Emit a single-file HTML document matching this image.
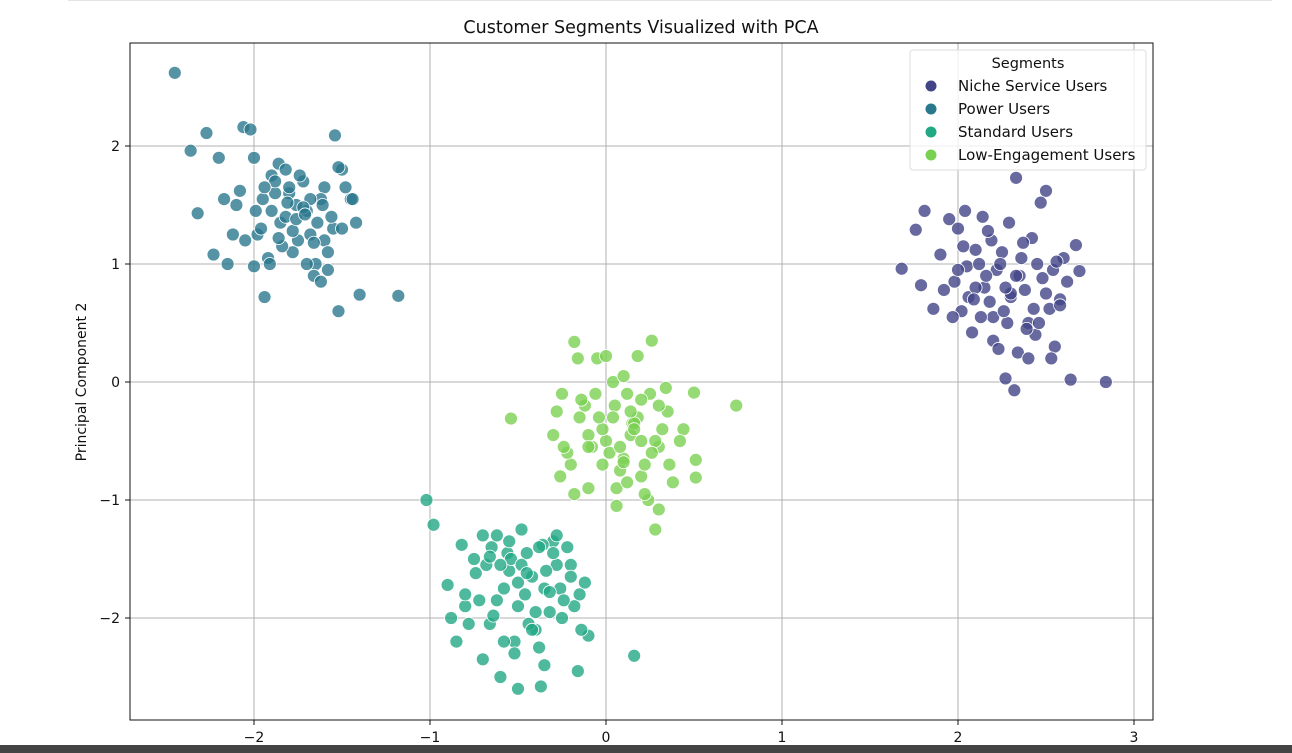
<!DOCTYPE html>
<html><head><meta charset="utf-8"><style>
body{margin:0;background:#fff;width:1292px;height:753px;overflow:hidden;font-family:"DejaVu Sans","Liberation Sans",sans-serif}
</style></head><body>
<div style="position:absolute;left:68px;top:0;width:1204px;height:1px;background:#e4e4e4"></div>
<svg id="chart" width="1292" height="753" style="position:absolute;left:0;top:0;font-family:'DejaVu Sans',sans-serif">
<text x="641" y="33" text-anchor="middle" font-size="17.5" fill="#111">Customer Segments Visualized with PCA</text>
<text transform="translate(86,382) rotate(-90)" text-anchor="middle" font-size="14" fill="#111">Principal Component 2</text>
<g id="grid"></g><g id="pts"></g><g id="ticks"></g>
<rect x="130" y="43" width="1023" height="677" fill="none" stroke="#111" stroke-width="1"/>
<g>
<rect x="910" y="50" width="236" height="120" rx="3" fill="#fff" fill-opacity="0.8" stroke="#ddd"/>
<text x="1028" y="68" text-anchor="middle" font-size="14.5" fill="#111">Segments</text>
<g id="leg"></g>
</g>
</svg>
<div style="position:absolute;left:0;top:745px;width:1292px;height:8px;background:#444"></div>
<script>
const xTicks=[-2,-1,0,1,2,3];
const yTicks=[-2,-1,0,1,2];
const segments=["Niche Service Users","Power Users","Standard Users","Low-Engagement Users"];
const colors=["#414487","#2a788e","#22a884","#7ad151"];
const nicheX=[1.68,1.76,1.81,1.79,1.86,2.33,2.5,2.84,2.64,2.32,2.27,2.69,2.67,1.95,2.0,2.05,2.1,2.15,2.2,2.25,2.3,2.35,2.4,2.45,2.5,2.55,2.6,1.98,2.02,2.08,2.12,2.18,2.22,2.28,2.38,2.42,2.48,2.52,2.58,1.92,2.04,2.14,2.24,2.34,2.44,2.54,2.06,2.16,2.26,2.36,2.46,2.56,2.1,2.2,2.3,2.4,2.0,2.62,1.9,2.47,2.13,2.19,2.29,2.39,2.09,2.03,2.53,2.23,2.33,2.43,1.97,2.58,2.17,2.27,2.37];
const nicheY=[0.96,1.29,1.45,0.82,0.62,1.73,1.62,0.0,0.02,-0.07,0.03,0.94,1.16,1.38,1.3,0.98,1.12,0.8,0.55,1.1,0.72,0.9,0.5,1.0,0.75,0.3,1.05,0.85,0.6,0.42,1.0,0.68,0.95,0.5,0.78,1.22,0.88,0.62,0.7,0.78,1.45,1.4,1.0,0.25,0.4,0.95,0.72,0.9,0.6,1.05,0.5,1.02,0.8,0.35,0.75,0.2,0.95,0.85,1.08,1.52,0.55,1.2,1.35,0.45,0.7,1.15,0.2,0.28,0.9,0.62,0.55,0.65,1.28,0.8,1.18];
const powerX=[-2.45,-2.36,-2.27,-2.06,-2.02,-1.54,-1.18,-1.4,-1.52,-1.94,-2.23,-2.32,-2.0,-1.95,-1.9,-1.85,-1.8,-1.75,-1.7,-1.65,-1.6,-1.55,-1.5,-1.45,-2.1,-2.15,-1.98,-1.92,-1.88,-1.82,-1.78,-1.72,-1.68,-1.62,-1.58,-1.48,-1.42,-2.05,-1.86,-1.76,-1.66,-1.56,-1.96,-1.84,-1.74,-1.64,-2.12,-2.2,-1.9,-1.8,-1.7,-1.6,-1.5,-2.0,-1.88,-1.78,-1.68,-1.58,-1.82,-1.72,-1.94,-1.62,-2.08,-1.76,-1.66,-1.86,-1.52,-1.44,-2.17,-1.99,-1.91,-1.81,-1.71,-1.61];
const powerY=[2.62,1.96,2.11,2.16,2.14,2.09,0.73,0.74,0.6,0.72,1.08,1.43,1.9,1.55,1.75,1.35,1.6,1.2,1.45,1.0,1.65,1.3,1.8,1.55,1.5,1.0,1.25,1.05,1.6,1.4,1.1,1.7,1.25,1.55,0.95,1.65,1.35,1.2,1.85,1.5,0.9,1.4,1.3,1.15,1.75,1.35,1.25,1.9,1.45,1.65,1.0,1.2,1.3,0.98,1.7,1.28,1.55,1.1,1.8,1.48,1.65,0.85,1.62,1.38,1.18,1.22,1.82,1.55,1.55,1.45,1.0,1.52,1.42,1.5];
const stdX=[-1.02,-0.98,0.16,-0.5,-0.37,-0.9,-0.85,-0.8,-0.75,-0.7,-0.65,-0.6,-0.55,-0.5,-0.45,-0.4,-0.35,-0.3,-0.25,-0.2,-0.15,-0.1,-0.82,-0.72,-0.62,-0.52,-0.42,-0.32,-0.22,-0.12,-0.78,-0.68,-0.58,-0.48,-0.38,-0.28,-0.18,-0.88,-0.66,-0.56,-0.46,-0.36,-0.26,-0.16,-0.74,-0.64,-0.54,-0.44,-0.34,-0.24,-0.7,-0.6,-0.5,-0.4,-0.3,-0.2,-0.58,-0.48,-0.38,-0.62,-0.52,-0.42,-0.32,-0.66,-0.45,-0.55,-0.35,-0.8,-0.14,-0.28];
const stdY=[-1.0,-1.21,-2.32,-2.6,-2.58,-1.72,-2.2,-1.9,-1.5,-2.35,-1.4,-2.5,-1.6,-1.9,-1.45,-2.1,-1.75,-1.35,-2.0,-1.55,-1.8,-2.15,-1.38,-1.85,-1.3,-2.2,-1.65,-1.95,-1.4,-1.7,-2.05,-1.55,-1.75,-1.25,-2.25,-1.55,-1.9,-2.0,-2.05,-1.45,-1.8,-1.38,-1.75,-2.45,-1.62,-1.98,-1.5,-2.05,-1.6,-1.85,-1.3,-1.55,-1.7,-1.95,-1.45,-1.65,-2.2,-1.55,-1.4,-1.85,-2.3,-2.1,-1.78,-1.48,-1.62,-1.35,-2.4,-1.8,-2.1,-1.3];
const lowX=[0.74,-0.54,0.5,0.51,0.51,-0.18,0.26,-0.3,-0.25,-0.2,-0.15,-0.1,-0.05,0.0,0.05,0.1,0.15,0.2,0.25,0.3,0.35,-0.22,-0.12,-0.02,0.08,0.18,0.28,0.38,-0.28,-0.08,0.12,0.22,0.32,-0.18,-0.04,0.04,0.14,0.24,-0.14,0.02,0.1,0.2,0.3,-0.26,0.06,0.16,0.26,-0.1,0.0,0.18,0.34,-0.06,0.12,0.28,0.08,-0.16,0.22,0.44,0.06,-0.02,0.36,0.14,0.3,-0.1,0.2,0.04,0.42,0.1,-0.24,0.16];
const lowY=[-0.2,-0.31,-0.09,-0.66,-0.81,0.34,0.35,-0.45,-0.1,-0.7,-0.3,-0.9,0.2,-0.5,-0.2,-0.65,-0.35,-0.8,-0.1,-0.55,-0.25,-0.6,-0.2,-0.4,-0.75,-0.3,-0.5,-0.85,-0.25,-0.55,-0.1,-0.7,-0.4,-0.95,-0.3,0.0,-0.45,-1.0,-0.15,-0.6,0.05,-0.5,-0.2,-0.8,-0.9,-0.35,-0.6,-0.45,0.22,0.22,-0.05,-0.1,-0.85,-1.25,-0.55,0.2,-0.95,-0.4,-1.05,-0.7,-0.7,-0.25,-1.08,-0.55,-0.15,-0.3,-0.5,-0.68,-0.55,-0.4];
const X0=606,XS=176,Y0=382,YS=118;
const sx=v=>X0+v*XS, sy=v=>Y0-v*YS;
const NS="http://www.w3.org/2000/svg";
const grid=document.getElementById('grid'),tk=document.getElementById('ticks'),pts=document.getElementById('pts'),leg=document.getElementById('leg');
function el(t,a,p){const e=document.createElementNS(NS,t);for(const k in a)e.setAttribute(k,a[k]);p.appendChild(e);return e;}
xTicks.forEach(v=>{
 const g=el('line',{x1:sx(v),x2:sx(v),y1:43,y2:720,stroke:'#b0b0b0','stroke-width':1},grid);
 
 
 el('line',{x1:sx(v),x2:sx(v),y1:720,y2:725,stroke:'#111'},tk);
 const t=el('text',{x:sx(v),y:742,'text-anchor':'middle','font-size':14,fill:'#111'},tk);
 t.textContent=(v<0?'\u2212'+(-v):v);
 
 
});
yTicks.forEach(v=>{
 const g=el('line',{x1:130,x2:1153,y1:sy(v),y2:sy(v),stroke:'#b0b0b0','stroke-width':1},grid);
 
 
 el('line',{x1:125,x2:130,y1:sy(v),y2:sy(v),stroke:'#111'},tk);
 const t=el('text',{x:120,y:sy(v)+5,'text-anchor':'end','font-size':14,fill:'#111'},tk);
 t.textContent=(v<0?'\u2212'+(-v):v);
 
 
});
[[nicheX,nicheY],[powerX,powerY],[stdX,stdY],[lowX,lowY]].forEach((s,i)=>{
 s[0].forEach((x,j)=>{
  const c=el('circle',{cx:sx(x),cy:sy(s[1][j]),r:6.5,fill:colors[i],'fill-opacity':0.8,stroke:'#fff','stroke-width':0.8},pts);
  
  
 });
 const y=86+i*23;
 const d=el('circle',{cx:931,cy:y,r:5.5,fill:colors[i]},leg);
 
 
 const t=el('text',{x:958,y:y+5,'font-size':15,fill:'#111'},leg);
 t.textContent=segments[i];
 
 
});
</script>
</body></html>
